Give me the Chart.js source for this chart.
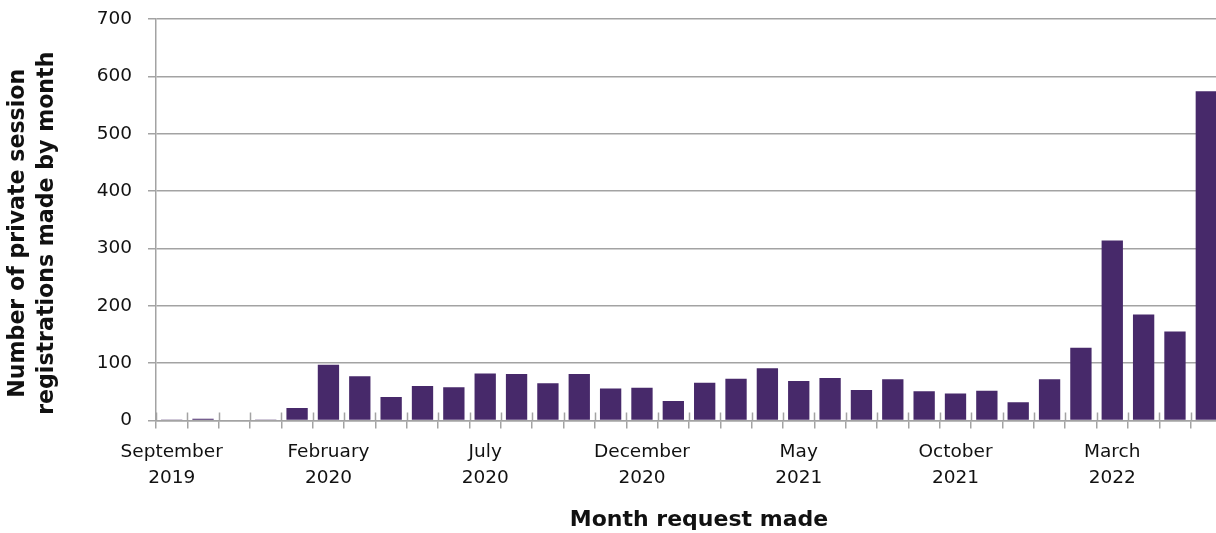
<!DOCTYPE html>
<html>
<head>
<meta charset="utf-8">
<script src="https://cdn.jsdelivr.net/npm/chart.js@4.4.1/dist/chart.umd.min.js"></script>
<style>
html,body{margin:0;padding:0;background:#ffffff;overflow:hidden;width:1216px;height:533px}
canvas{display:block}
</style>
</head>
<body>
<canvas id="c" width="1230" height="533"></canvas>
<script>
const months = [
  "September 2019","October 2019","November 2019","December 2019","January 2020",
  "February 2020","March 2020","April 2020","May 2020","June 2020",
  "July 2020","August 2020","September 2020","October 2020","November 2020",
  "December 2020","January 2021","February 2021","March 2021","April 2021",
  "May 2021","June 2021","July 2021","August 2021","September 2021",
  "October 2021","November 2021","December 2021","January 2022","February 2022",
  "March 2022","April 2022","May 2022","June 2022"
];
const registrations = [
  1, 3, 0, 1, 22,
  97, 77, 41, 60, 58,
  82, 81, 65, 81, 56,
  57, 34, 66, 73, 91,
  69, 74, 53, 72, 51,
  47, 52, 32, 72, 127,
  314, 185, 155, 574
];
const labelledMonths = ["September 2019","February 2020","July 2020","December 2020","May 2021","October 2021","March 2022"];
const yTicks = [0, 100, 200, 300, 400, 500, 600, 700];

const yTitle = ["Number of private session", "registrations made by month"];
const xTitle = "Month request made";

const GRID = '#a3a3a3';
const BAR = '#47296a';

// small nudges of the axis titles (dx, dy in px)
const titleShift = { y: [0, 13.5], x: [10, 0] };

const shiftTitles = {
  id: 'shiftTitles',
  beforeDraw(chart) {
    for (const id in titleShift) {
      const s = chart.scales[id];
      if (!s || s.$shifted) continue;
      const orig = s.drawTitle.bind(s);
      const [dx, dy] = titleShift[id];
      s.drawTitle = function () {
        chart.ctx.save();
        chart.ctx.translate(dx, dy);
        orig();
        chart.ctx.restore();
      };
      s.$shifted = true;
    }
  }
};

const crossTicks = {
  id: 'crossTicks',
  afterDatasetsDraw(chart) {
    const x = chart.scales.x;
    const ctx = chart.ctx;
    const n = months.length;
    const w = x.getPixelForValue(1) - x.getPixelForValue(0);
    ctx.save();
    ctx.strokeStyle = GRID;
    ctx.lineWidth = 1.5;
    ctx.beginPath();
    for (let i = 0; i <= n; i++) {
      const px = Math.round(x.getPixelForValue(i) - w / 2) + 0.5;
      ctx.moveTo(px, chart.chartArea.bottom - 8);
      ctx.lineTo(px, chart.chartArea.bottom);
    }
    ctx.stroke();
    ctx.restore();
  }
};

Chart.defaults.font.family = "'DejaVu Sans', sans-serif";
Chart.defaults.color = '#111111';

new Chart(document.getElementById('c'), {
  type: 'bar',
  data: {
    labels: months,
    datasets: [{
      data: registrations,
      backgroundColor: BAR,
      borderWidth: 0,
      categoryPercentage: 1,
      barPercentage: 0.68
    }]
  },
  options: {
    responsive: false,
    animation: false,
    devicePixelRatio: 1,
    layout: { padding: { top: 19, right: 8, left: 0, bottom: 0 } },
    plugins: { legend: { display: false }, tooltip: { enabled: false } },
    scales: {
      x: {
        offset: true,
        afterFit(scale) { scale.height = 112.5; },
        grid: { display: true, drawOnChartArea: false, drawTicks: true, tickLength: 8, color: GRID, lineWidth: 1.5, offset: true },
        border: { display: true, color: GRID, width: 1.5 },
        ticks: {
          autoSkip: false, maxRotation: 0, minRotation: 0, padding: 11,
          font: { size: 18.5, lineHeight: 1.38 }, color: '#111111',
          callback(value, index) {
            const m = months[index];
            return labelledMonths.includes(m) ? m.split(' ') : '';
          }
        },
        title: {
          display: true, text: xTitle, color: '#111111',
          font: { size: 22, weight: 'bold', lineHeight: 1.2 },
          padding: { top: 0, bottom: 0 }
        }
      },
      y: {
        min: 0, max: 700,
        afterFit(scale) { scale.width = 156; scale.paddingTop = 0; scale.paddingBottom = 0; },
        afterBuildTicks(scale) { scale.ticks = yTicks.map(v => ({ value: v })); },
        grid: { color: GRID, lineWidth: 1.5, tickLength: 8, drawTicks: true },
        border: { display: true, color: GRID, width: 1.5 },
        ticks: { padding: 16, font: { size: 18.5 }, color: '#111111' },
        title: {
          display: true, text: yTitle, align: 'center', color: '#111111',
          font: { size: 22.1, weight: 'bold', lineHeight: 1.3 },
          padding: { top: 4, bottom: 0 }
        }
      }
    }
  },
  plugins: [crossTicks, shiftTitles]
});
</script>
</body>
</html>
